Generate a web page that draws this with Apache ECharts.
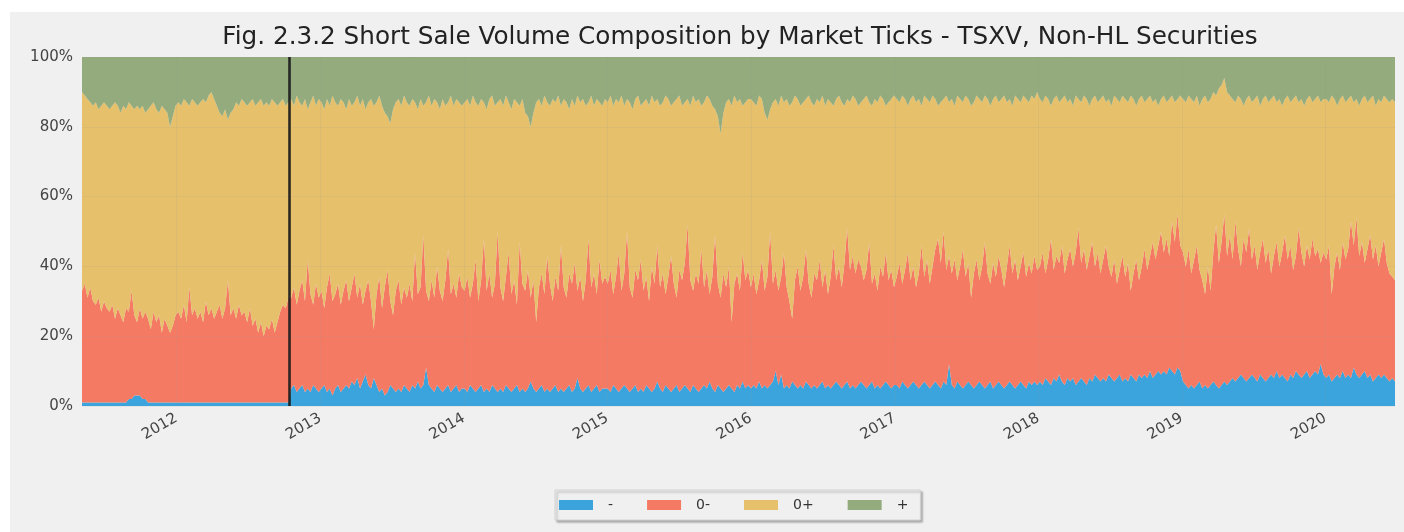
<!DOCTYPE html>
<html>
<head>
<meta charset="utf-8">
<script src="https://cdn.jsdelivr.net/npm/echarts@6/dist/echarts.min.js"></script>
<style>
  html, body { margin: 0; padding: 0; background: #ffffff; width: 1404px; height: 532px; overflow: hidden; }
  #chart { position: absolute; left: 10px; top: 12px; width: 1394px; height: 520px; background: #f0f0f0; }
</style>
</head>
<body>
<div id="chart"></div>
<script>
// Weekly share of short sale volume (%) by market tick, TSXV non-HL securities.
// One value per week, starting the week of 2011-05-06.
const firstWeek = [2011, 4, 6];
const ruleChangeDate = [2012, 9, 15];
const yearTicks = [2012, 2013, 2014, 2015, 2016, 2017, 2018, 2019, 2020];
const percentTicks = [0, 20, 40, 60, 80, 100];
const seriesNames = ['-', '0-', '0+', '+'];

const dash = [
  1,1,1,1,1,1,1,1,1,1,1,1,1,1,1,1,1,2,2,3,3,3,2,2,1,1,1,1,1,1,1,1,1,1,1,
  1,1,1,1,1,1,1,1,1,1,1,1,1,1,1,1,1,1,1,1,1,1,1,1,1,1,1,1,1,1,1,1,1,1,1,1,1,1,1,1,1,
  5,6,4,5,6,4,5,4,6,5,4,5,6,4,5,3,5,6,4,5,6,5,7,6,8,5,7,9,6,5,8,6,4,5,3,4,6,5,4,5,4,6,5,4,6,5,7,5,6,11,6,5,4,6,5,4,5,6,4,5,6,4,5,
  5,4,6,5,4,5,6,4,5,4,6,5,4,5,4,6,5,4,5,6,4,5,4,5,7,5,4,5,6,4,5,4,5,6,4,5,4,5,6,4,5,8,5,4,5,6,4,5,6,4,5,5,
  5,4,6,5,4,5,6,5,4,5,6,4,5,4,6,5,4,5,7,5,4,6,5,4,5,6,4,5,6,5,4,6,5,4,5,6,5,7,5,4,6,5,4,5,6,5,4,6,5,7,5,6,
  5,6,5,7,5,6,5,6,7,10,6,9,5,6,5,7,6,5,6,5,7,6,5,6,5,6,7,5,6,5,6,7,6,5,6,7,5,6,5,6,7,6,5,6,7,5,6,5,6,7,6,5,6,
  6,5,7,6,5,6,7,6,5,6,7,6,5,6,7,6,5,7,6,12,6,5,7,6,5,6,7,6,5,6,7,6,5,6,7,5,6,7,6,5,6,7,6,5,6,7,6,5,7,6,7,6,
  7,6,8,7,6,8,7,9,7,6,8,7,8,6,7,8,7,6,8,7,9,8,7,8,7,9,8,7,8,9,7,8,7,9,8,7,9,8,9,8,10,8,9,10,9,10,9,11,10,9,11,10,
  7,6,5,6,5,6,7,5,6,5,6,7,6,5,6,7,6,7,8,7,8,9,8,7,8,9,8,7,9,8,7,8,9,8,10,8,9,8,7,9,8,10,9,8,9,10,8,9,10,9,12,9,
  8,9,7,8,9,8,10,8,9,8,11,9,8,9,10,8,9,7,8,9,8,9,8,7,8,7
];

const zeroMinus = [
  32,34,30,33,29,28,30,26,29,27,26,28,24,27,25,23,27,25,31,23,21,25,23,25,24,21,26,23,25,20,24,22,20,22,25,
  26,24,28,23,33,25,27,24,26,23,29,25,27,24,26,28,24,27,35,25,27,24,28,25,26,23,27,22,24,20,23,19,22,21,24,20,23,26,28,27,30,
  26,28,25,28,30,26,37,28,23,30,27,28,22,30,33,27,27,29,25,28,30,25,27,32,23,30,22,24,30,25,14,26,33,23,31,35,24,21,29,31,25,28,26,31,24,39,25,29,43,22,24,31,27,34,28,26,31,39,28,30,25,34,29,
  28,33,25,30,38,25,30,44,28,34,25,30,46,29,26,31,39,28,31,23,43,30,29,34,24,31,20,29,32,28,38,31,25,31,29,41,30,26,32,31,36,25,32,26,31,42,30,33,26,38,30,32,
  30,35,26,32,40,28,32,45,30,26,33,32,37,29,31,25,36,30,39,29,34,26,32,39,30,25,35,31,35,47,32,27,33,31,40,28,34,25,32,45,29,26,34,29,34,19,31,32,28,37,31,33,
  29,32,27,29,37,27,32,44,28,29,27,28,39,28,25,18,30,35,27,32,38,29,26,32,31,36,27,34,26,32,40,29,34,29,35,44,34,37,33,36,33,30,34,41,28,33,27,35,31,37,30,34,28,
  31,36,28,33,39,30,33,28,33,40,30,36,30,34,38,42,36,43,33,31,32,37,29,34,40,31,34,25,33,36,29,34,42,32,28,36,31,36,33,29,34,39,32,37,30,33,38,32,34,32,36,33,
  33,38,30,35,42,31,36,32,39,32,34,38,32,38,44,33,38,33,35,40,31,36,31,34,39,31,29,35,27,30,36,29,34,24,30,35,27,32,36,31,33,39,33,36,41,34,39,32,43,38,44,36,
  37,34,40,32,37,40,32,31,26,35,27,37,46,36,41,48,37,42,34,46,37,31,40,37,43,33,38,32,35,40,34,37,29,35,37,32,35,41,35,37,31,33,42,36,31,36,34,39,33,36,29,35,
  34,37,25,32,35,31,37,34,36,45,35,45,35,38,31,37,40,35,38,31,36,39,33,31,29,29
];

const zeroPlus = [
  57,54,57,53,56,58,54,59,57,58,58,57,62,58,58,62,57,60,53,59,62,57,61,57,60,64,60,61,58,65,60,61,59,60,60,
  60,61,59,63,52,62,59,61,60,64,57,63,62,63,59,55,58,57,46,58,57,62,57,62,60,62,59,65,61,66,64,66,64,64,63,66,62,60,59,58,56,
  57,52,60,54,50,58,43,55,60,51,57,54,57,54,48,59,55,51,59,54,49,58,52,49,58,51,59,52,51,58,64,55,52,58,50,44,51,59,54,52,57,55,56,51,58,43,53,54,37,54,59,50,57,47,52,58,50,42,57,51,57,49,52,
  54,51,55,54,45,56,52,39,52,50,58,51,37,54,56,52,43,53,52,58,39,53,51,44,49,48,63,54,48,57,44,51,58,50,56,40,54,56,47,53,45,56,50,58,50,39,55,48,56,45,51,51,
  52,50,54,51,43,56,48,38,53,54,49,53,44,54,51,56,49,52,42,52,49,57,51,43,52,57,50,50,46,36,50,56,49,53,41,53,50,56,49,36,48,47,46,53,48,62,54,49,55,42,51,49,
  54,49,54,53,46,51,45,35,52,49,53,52,43,54,56,62,53,48,53,50,43,54,56,48,52,45,55,47,56,50,40,52,49,53,45,37,48,46,50,44,47,52,50,40,51,50,54,49,51,42,51,49,55,
  51,46,54,49,42,52,49,53,50,40,52,46,52,49,43,38,46,38,50,44,50,44,53,48,42,52,47,55,49,47,52,47,42,50,51,47,52,44,49,55,47,42,48,47,52,47,45,51,46,51,45,51,
  48,43,51,46,38,49,46,46,42,51,45,43,46,45,37,46,44,49,43,41,49,43,50,47,41,48,49,47,53,48,46,51,46,56,50,44,52,49,42,49,46,40,46,40,38,45,39,45,36,40,33,43,
  44,47,44,50,45,43,47,52,57,47,55,46,37,50,45,39,47,40,46,34,44,48,38,44,38,45,42,50,42,40,48,42,50,46,40,48,42,39,47,41,49,46,36,44,46,42,47,39,45,44,46,44,
  46,41,57,48,42,49,42,45,43,36,41,34,43,41,48,42,39,47,40,48,43,41,47,49,51,51
];

const plus = [
  10,11,12,13,14,13,15,14,13,14,15,14,13,14,16,14,15,13,14,15,14,15,14,16,15,14,13,15,16,14,15,16,20,17,14,
  13,14,12,13,14,12,13,14,13,12,13,11,10,12,14,16,17,15,18,16,15,13,14,12,13,14,13,12,14,13,12,14,13,14,12,13,14,13,12,14,13,
  12,14,11,13,14,12,15,13,11,14,12,13,15,12,14,11,13,14,12,13,15,12,14,13,11,14,12,15,13,12,14,13,11,14,16,17,19,15,13,12,14,11,13,14,12,13,15,12,14,13,11,14,12,13,15,12,14,13,11,14,12,13,14,
  13,12,14,11,13,14,12,13,15,12,11,14,13,12,14,11,13,15,12,13,14,12,16,17,20,16,13,12,14,11,13,14,12,13,11,14,12,13,15,12,14,11,13,12,14,13,11,14,12,13,14,12,
  13,11,14,12,13,11,14,12,13,15,12,11,14,13,12,14,11,13,12,14,13,11,12,14,13,12,11,14,13,12,14,11,13,12,14,13,11,12,14,15,17,22,16,13,12,14,11,13,12,14,13,12,
  12,13,14,11,12,16,18,15,13,12,14,11,13,12,14,13,11,12,14,13,12,11,13,14,12,13,11,14,12,13,14,12,11,13,14,12,13,11,12,14,13,12,11,13,14,12,13,11,12,14,13,12,11,
  12,13,11,12,14,12,11,13,12,14,11,12,13,11,12,14,13,12,11,13,12,14,11,12,13,11,12,14,13,11,12,13,11,12,14,12,11,13,12,11,13,12,14,11,12,13,11,12,13,11,12,10,
  12,13,11,12,14,12,11,13,12,11,13,12,14,11,12,13,11,12,14,12,11,13,12,11,13,12,14,11,12,13,11,12,13,11,12,14,12,11,13,12,11,13,12,14,12,11,13,12,11,13,12,11,
  12,13,11,12,13,11,14,12,11,13,12,10,11,9,8,6,10,11,12,13,11,12,14,12,11,13,12,11,14,12,11,13,12,11,13,12,14,12,11,13,12,11,13,12,14,12,11,13,12,11,13,12,
  12,13,11,12,14,12,11,13,12,11,13,12,14,12,11,13,12,11,14,12,13,11,12,13,12,13
];

const DAY = 86400000;
const t0 = Date.UTC(firstWeek[0], firstWeek[1], firstWeek[2]);
const weeks = dash.map((_, i) => t0 + i * 7 * DAY);
const ruleChange = Date.UTC(ruleChangeDate[0], ruleChangeDate[1], ruleChangeDate[2]);
const yearStamps = yearTicks.map(y => Date.UTC(y, 0, 1));

const colors = ['#3ba4dc', '#f57a64', '#e6c06b', '#94ab7d'];
const values = [dash, zeroMinus, zeroPlus, plus];
const FONT = 'DejaVu Sans';

const series = seriesNames.map((name, k) => ({
  name: name,
  type: 'line',
  stack: 'share',
  data: values[k].map((v, i) => [weeks[i], v]),
  showSymbol: false,
  symbol: 'none',
  lineStyle: { width: 0, opacity: 0 },
  areaStyle: { color: colors[k], opacity: 1 },
  itemStyle: { color: colors[k] },
  emphasis: { disabled: true },
  z: 2
}));

// faint year gridlines plus the black marker on the rule-change date
series[3].markLine = {
  silent: true,
  symbol: 'none',
  animation: false,
  label: { show: false },
  data: yearStamps.map(t => ({ xAxis: t, lineStyle: { color: 'rgba(150,150,150,0.12)', width: 1, type: 'solid' } }))
    .concat([{ xAxis: ruleChange, lineStyle: { color: '#1b1b1b', width: 2.6, type: 'solid', opacity: 0.92 } }])
};

const yearLabel = v => {
  const d = new Date(v);
  const y = d.getUTCFullYear();
  return (d.getUTCMonth() === 0 && d.getUTCDate() === 1 && yearTicks.includes(y)) ? String(y) : '';
};

const chart = echarts.init(document.getElementById('chart'), null, { renderer: 'canvas', useUTC: true });
chart.setOption({
  animation: false,
  useUTC: true,
  backgroundColor: '#f0f0f0',
  textStyle: { fontFamily: FONT },
  title: {
    text: 'Fig. 2.3.2 Short Sale Volume Composition by Market Ticks - TSXV, Non-HL Securities',
    left: 725,
    textAlign: 'center',
    top: 8,
    textStyle: { fontFamily: FONT, fontSize: 24.7, fontWeight: 'normal', color: '#222222' }
  },
  grid: { left: 72, right: 9, top: 45, bottom: 126, containLabel: false },
  xAxis: {
    type: 'time',
    min: weeks[0],
    max: weeks[weeks.length - 1],
    splitNumber: 9,
    axisLine: { show: false },
    axisTick: { show: false },
    splitLine: { show: false },
    axisLabel: {
      rotate: 30,
      margin: 11,
      hideOverlap: false,
      showMinLabel: false,
      showMaxLabel: false,
      fontFamily: FONT,
      fontSize: 15,
      color: '#444444',
      formatter: yearLabel
    }
  },
  yAxis: {
    type: 'value',
    min: 0,
    max: 100,
    interval: 20,
    z: 4,
    axisLine: { show: false },
    axisTick: { show: false },
    splitLine: { show: true, lineStyle: { color: 'rgba(150,150,150,0.12)', width: 1 } },
    axisLabel: {
      margin: 9,
      fontFamily: FONT,
      fontSize: 15,
      color: '#444444',
      formatter: v => percentTicks.includes(v) ? v + '%' : ''
    }
  },
  legend: {
    data: seriesNames,
    left: 545,
    top: 478,
    orient: 'horizontal',
    icon: 'rect',
    itemWidth: 34,
    itemHeight: 10,
    itemGap: 34,
    padding: [8, 12, 8, 4],
    backgroundColor: '#f0f0f0',
    borderColor: '#d2d2d2',
    borderWidth: 1,
    shadowColor: 'rgba(0,0,0,0.28)',
    shadowBlur: 2,
    shadowOffsetX: 2,
    shadowOffsetY: 2,
    selectedMode: false,
    textStyle: { fontFamily: FONT, fontSize: 14, color: '#333333', padding: [0, 0, 0, 10] }
  },
  series: series
});
</script>
</body>
</html>
